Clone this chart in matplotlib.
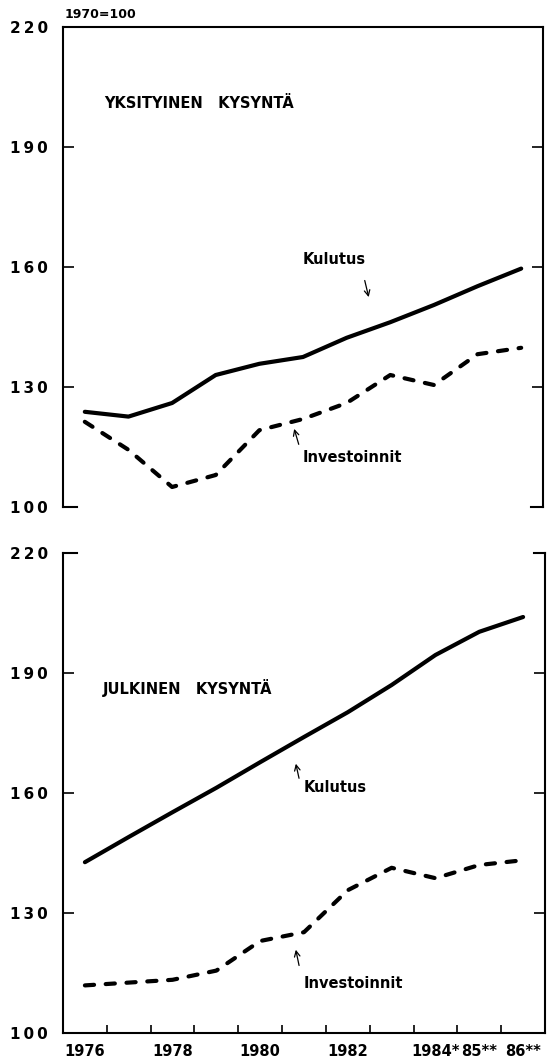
import matplotlib
matplotlib.use('Agg')
import matplotlib.pyplot as plt

plt.rcParams['font.family'] = ['Liberation Sans Narrow', 'DejaVu Sans']
plt.rcParams['font.weight'] = 'bold'

years = [1976, 1977, 1978, 1979, 1980, 1981, 1982, 1983, 1984, 1985, 1986]
year_labels = ['1976', '1978', '1980', '1982', '1984*', '85**', '86**']
year_label_pos = [1976, 1978, 1980, 1982, 1984, 1985, 1986]
y_ticks = [100, 130, 160, 190, 220]

# yksityinen kysyntä
priv_kulutus = [123.8, 122.6, 126.0, 133.0, 135.8, 137.5, 142.3, 146.2, 150.5, 155.2, 159.6]
priv_invest = [121.3, 114.3, 105.0, 108.0, 119.2, 122.0, 126.0, 133.0, 130.5, 138.2, 139.8]
# julkinen kysyntä
publ_kulutus = [142.7, 149.0, 155.2, 161.3, 167.7, 174.0, 180.2, 187.0, 194.5, 200.3, 204.0]
publ_invest = [111.9, 112.6, 113.3, 115.6, 123.0, 125.2, 135.7, 141.3, 138.7, 142.0, 143.2]

fig = plt.figure(figsize=(5.56, 10.57), dpi=100)
ax1 = fig.add_axes([63/556, 1-507/1057, 480/556, 480/1057])
ax2 = fig.add_axes([63/556, 1-1033/1057, 482/556, 480/1057])

def style(ax):
    ax.set_xlim(1975.5, 1986.5)
    ax.set_ylim(100, 220)
    ax.set_yticks(y_ticks)
    ax.set_yticklabels(['\u2009'.join(str(v)) for v in y_ticks], fontsize=11)
    ax.tick_params(axis='y', direction='in', length=8, width=1.2, pad=11,
                   left=True, right=True)
    for s in ax.spines.values():
        s.set_linewidth(1.5)

def draw(ax, kul, inv):
    ax.plot(years, kul, color='black', lw=3, solid_capstyle='round')
    ax.plot(years, inv, color='black', lw=3, dashes=(2.2, 2.8), dash_capstyle='round')

for ax, kul, inv in [(ax1, priv_kulutus, priv_invest), (ax2, publ_kulutus, publ_invest)]:
    style(ax)
    draw(ax, kul, inv)

# top panel: no bottom spine, only corner stubs
ax1.spines['bottom'].set_visible(False)
ax1.set_xticks([])
ax1.plot([0, 0.03], [0, 0], transform=ax1.transAxes, color='black', lw=1.5, clip_on=False)
ax1.plot([0.975, 1], [0, 0], transform=ax1.transAxes, color='black', lw=1.5, clip_on=False)

# bottom panel: no top spine, only corner stubs
ax2.spines['top'].set_visible(False)
ax2.plot([0, 0.03], [1, 1], transform=ax2.transAxes, color='black', lw=1.5, clip_on=False)
ax2.plot([0.977, 1], [1, 1], transform=ax2.transAxes, color='black', lw=1.5, clip_on=False)
ax2.set_xticks(year_label_pos)
ax2.set_xticklabels(year_labels, fontsize=10.5)
ax2.set_xticks([y + 0.5 for y in years[:-1]], minor=True)
ax2.tick_params(axis='x', which='major', length=0, pad=8)
ax2.tick_params(axis='x', which='minor', direction='in', length=6, width=1.2)

fig.text(65/556, 1-14/1057, '1970=100', fontsize=9, ha='left', va='center')

ax1.text(1976.45, 201.0, 'YKSITYINEN   KYSYNTÄ', fontsize=10.5, ha='left', va='center')
ax1.text(1981.0, 162.0, 'Kulutus', fontsize=10.5, ha='left', va='center')
ax1.annotate('', xy=(1982.52, 151.8), xytext=(1982.4, 157.3),
             arrowprops=dict(arrowstyle='->', color='black', lw=0.9))
ax1.text(1981.0, 112.3, 'Investoinnit', fontsize=10.5, ha='left', va='center')
ax1.annotate('', xy=(1980.78, 120.2), xytext=(1980.92, 115.0),
             arrowprops=dict(arrowstyle='->', color='black', lw=0.9))

ax2.text(1976.4, 186.3, 'JULKINEN   KYSYNTÄ', fontsize=10.5, ha='left', va='center')
ax2.text(1981.0, 161.5, 'Kulutus', fontsize=10.5, ha='left', va='center')
ax2.annotate('', xy=(1980.8, 168.0), xytext=(1980.9, 163.0),
             arrowprops=dict(arrowstyle='->', color='black', lw=0.9))
ax2.text(1981.0, 112.5, 'Investoinnit', fontsize=10.5, ha='left', va='center')
ax2.annotate('', xy=(1980.8, 121.5), xytext=(1980.9, 116.2),
             arrowprops=dict(arrowstyle='->', color='black', lw=0.9))

fig.savefig('out.png', dpi=100)
